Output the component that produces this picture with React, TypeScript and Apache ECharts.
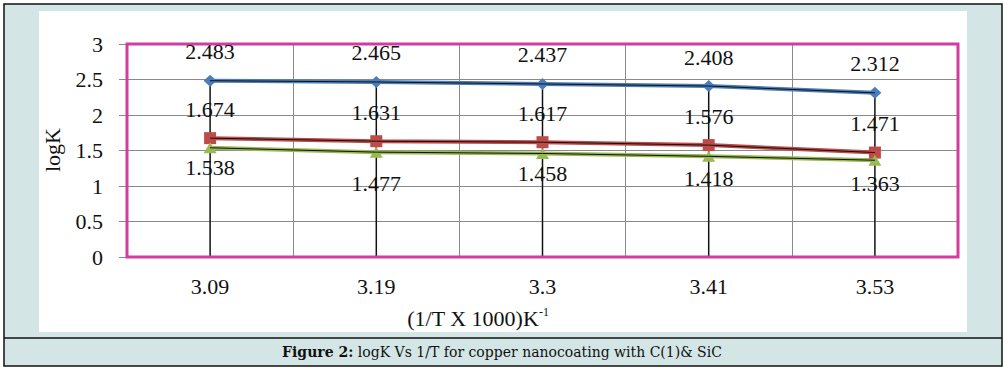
import React, { useEffect, useRef } from "react";
import * as echarts from "echarts";

const categories = ["3.09", "3.19", "3.3", "3.41", "3.53"];
const seriesA = [2.483, 2.465, 2.437, 2.408, 2.312];
const seriesB = [1.674, 1.631, 1.617, 1.576, 1.471];
const seriesC = [1.538, 1.477, 1.458, 1.418, 1.363];
const yTicks = [0, 0.5, 1, 1.5, 2, 2.5, 3];
const greenLabelDrop = [20, 31, 20, 22, 23];

export default function App() {
  const ref = useRef<HTMLDivElement>(null);
  useEffect(() => {
    document.body.style.margin = "0";
    const chart = echarts.init(ref.current!, null, { renderer: "svg" });
    const serif = "'Liberation Serif', 'Times New Roman', serif";
    const maxes = categories.map((_, i) => Math.max(seriesA[i], seriesB[i], seriesC[i]));
    const lab = (dy: number) => ({
      show: true,
      position: "inside",
      offset: [0, dy],
      color: "#111",
      fontFamily: serif,
      fontSize: 22,
      formatter: (p: any) => String(p.value),
    });
    const overlay = (data: number[]) => ({
      type: "line",
      data,
      symbol: "none",
      lineStyle: { color: "#111", width: 1 },
      z: 5,
      silent: true,
    });
    chart.setOption({
      animation: false,
      graphic: [
        { type: "rect", z: -20, shape: { x: 4, y: 4, width: 998, height: 362 }, style: { fill: "#d3e6e5", stroke: "#111", lineWidth: 1.5 } },
        { type: "rect", z: -19, shape: { x: 39, y: 11, width: 928, height: 321 }, style: { fill: "#ffffff" } },
        { type: "line", z: -18, shape: { x1: 4, y1: 338, x2: 1002, y2: 338 }, style: { stroke: "#111", lineWidth: 1.5 } },
        {
          type: "text", z: 10, x: 502, y: 352,
          style: {
            text: "{b|Figure 2:} logK Vs 1/T for copper nanocoating with C(1)& SiC",
            align: "center", verticalAlign: "middle",
            fontFamily: "'DejaVu Serif', serif", fontSize: 14, fill: "#111",
            rich: { b: { fontWeight: "bold", fontFamily: "'DejaVu Serif', serif", fontSize: 14, fill: "#111" } },
          },
        },
        {
          type: "text", z: 10, x: 478, y: 318,
          style: {
            text: "(1/T X 1000)K{s|-1}",
            align: "center", verticalAlign: "middle",
            fontFamily: serif, fontSize: 22, fill: "#111",
            rich: { s: { fontFamily: serif, fontSize: 12, fill: "#111", verticalAlign: "top", padding: [0, 0, 12, 0] } },
          },
        },
        {
          type: "text", z: 10, x: 52, y: 150, rotation: Math.PI / 2,
          style: { text: "logK", align: "center", verticalAlign: "middle", fontFamily: serif, fontSize: 22, fill: "#111" },
        },
      ],
      grid: { left: 127, top: 44, right: 47, bottom: 114, show: true, borderColor: "#d23c9f", borderWidth: 3, backgroundColor: "transparent", z: 3 },
      xAxis: {
        type: "category",
        data: categories,
        boundaryGap: true,
        axisLine: { show: false },
        axisTick: { show: false },
        splitLine: { show: true, lineStyle: { color: "#8a8a8a", width: 1 } },
        axisLabel: { margin: 18, color: "#111", fontFamily: serif, fontSize: 22 },
      },
      yAxis: {
        type: "value",
        min: 0,
        max: 3,
        interval: 0.5,
        axisLine: { show: false },
        axisTick: { show: true, length: 8, lineStyle: { color: "#8a8a8a" } },
        splitLine: { show: true, lineStyle: { color: "#8a8a8a", width: 1 } },
        axisLabel: { margin: 24, color: "#111", fontFamily: serif, fontSize: 22, formatter: (v: number) => (yTicks.includes(v) ? String(v) : "") },
      },
      series: [
        { type: "bar", data: maxes, barWidth: 1.5, itemStyle: { color: "#111" }, z: 1, silent: true },
        {
          type: "line", data: seriesA, symbol: "diamond", symbolSize: [13, 12],
          itemStyle: { color: "#4a7ebb" }, lineStyle: { color: "#4a7ebb", width: 4 }, label: lab(-29), z: 4,
        },
        {
          type: "line", data: seriesB, symbol: "rect", symbolSize: 12,
          itemStyle: { color: "#be4b48" }, lineStyle: { color: "#be4b48", width: 4 }, label: lab(-29), z: 4,
        },
        {
          type: "line",
          data: seriesC.map((v, i) => ({ value: v, label: { offset: [0, greenLabelDrop[i]] } })),
          symbol: "triangle", symbolSize: [13, 11],
          itemStyle: { color: "#98b954" }, lineStyle: { color: "#98b954", width: 4 }, label: lab(20), z: 4,
        },
        overlay(seriesA),
        overlay(seriesB),
        overlay(seriesC),
      ],
    });
    return () => chart.dispose();
  }, []);
  return <div ref={ref} style={{ position: "absolute", left: 0, top: 0, width: 1005, height: 371 }} />;
}
